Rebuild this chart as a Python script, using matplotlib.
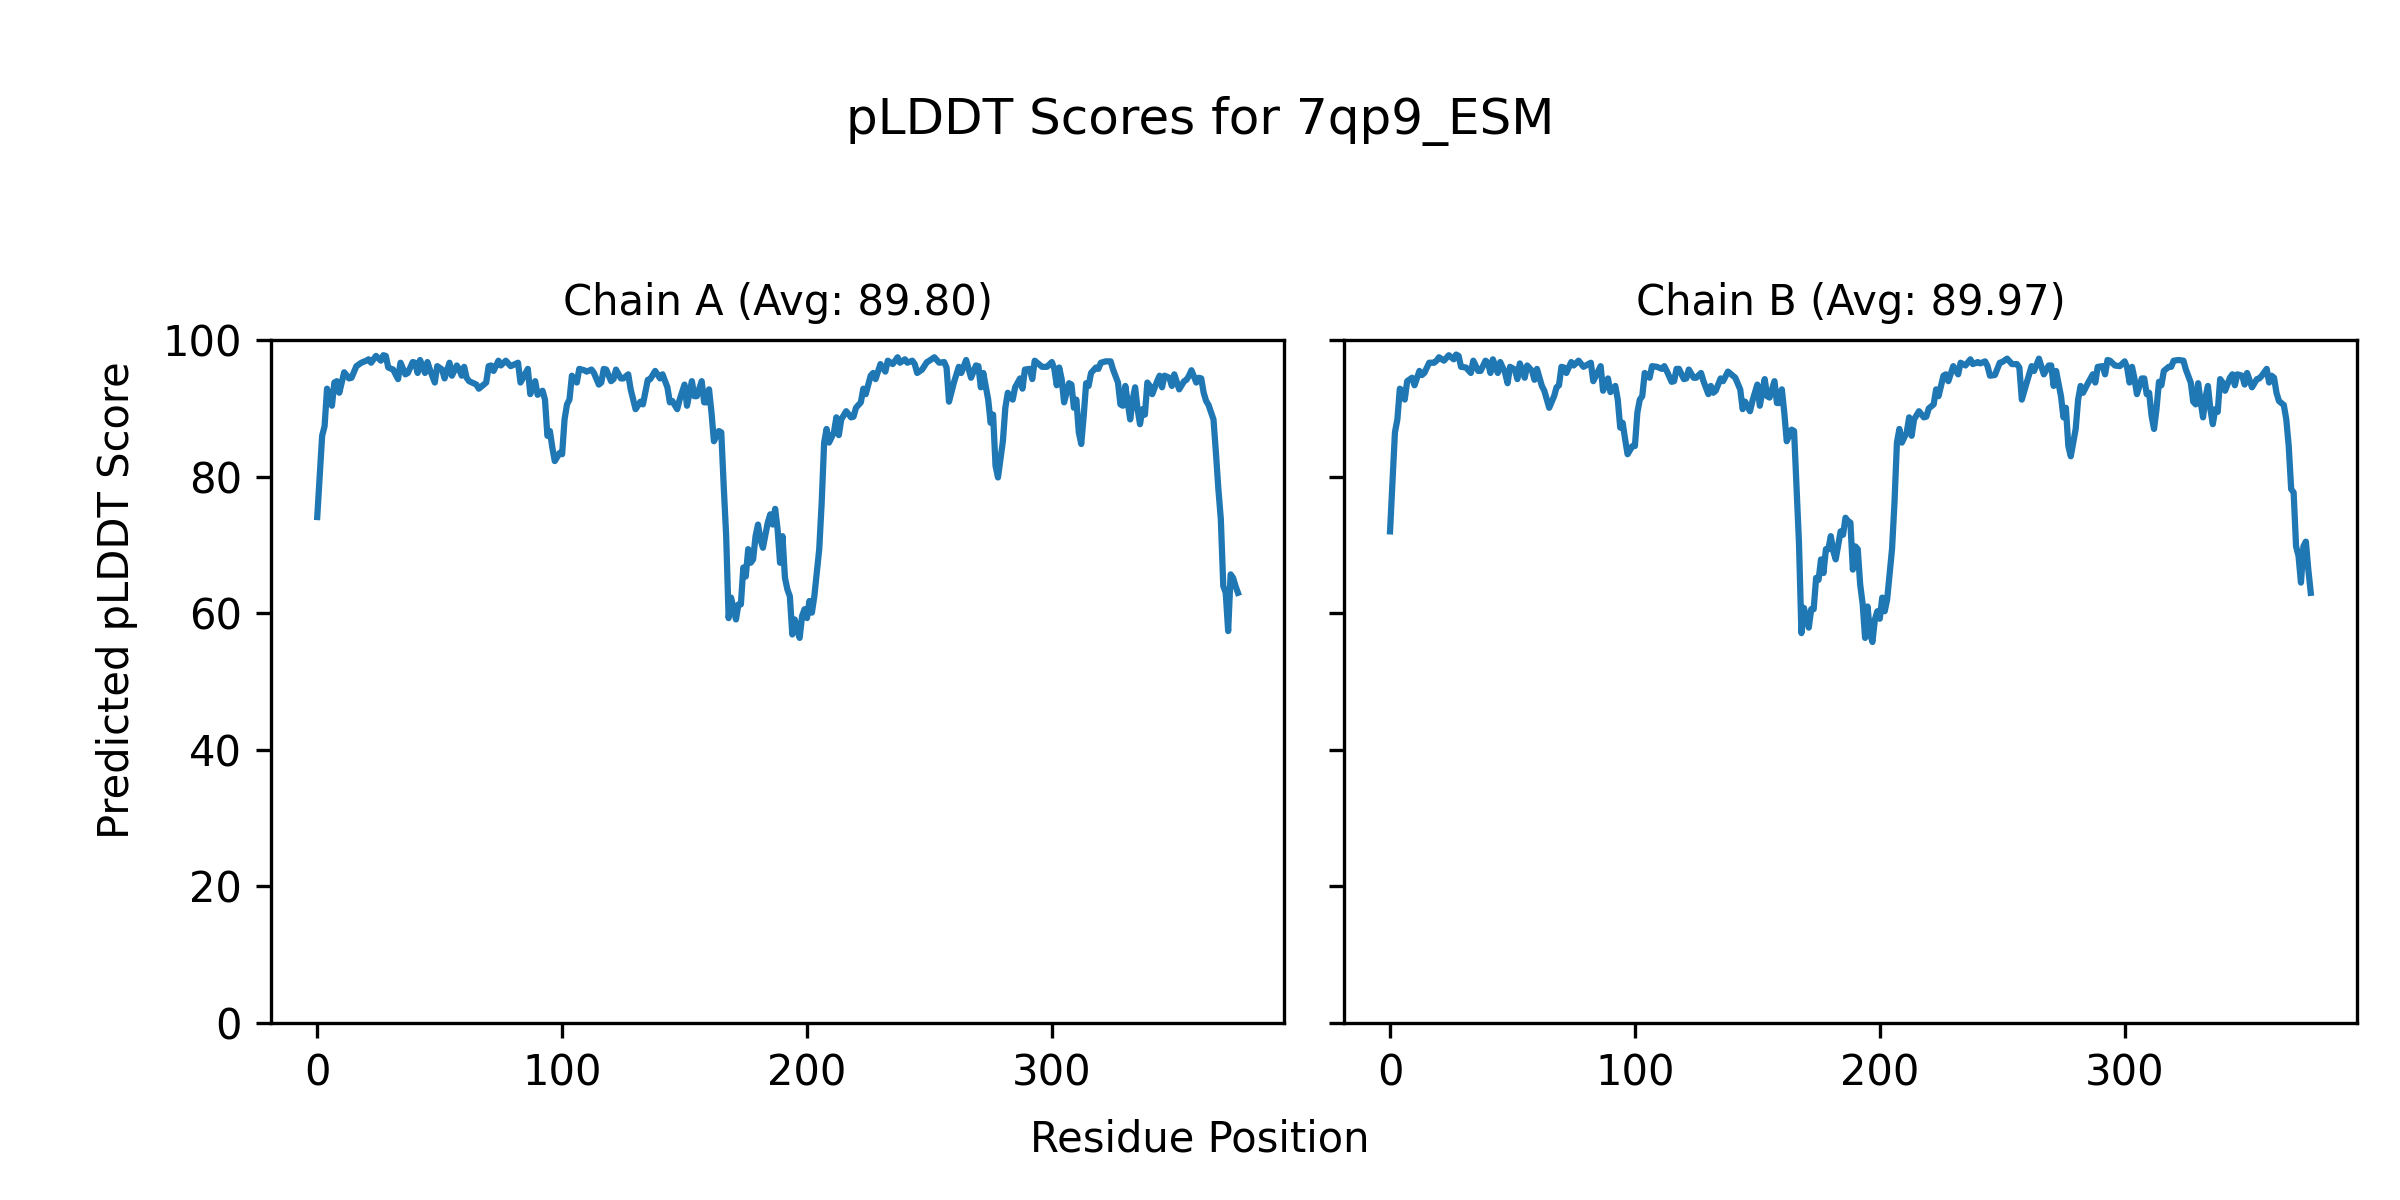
import matplotlib
matplotlib.use("Agg")
import matplotlib.pyplot as plt

model_name = "7qp9_ESM"

# Chain A: residue positions and pLDDT scores
pos_a = [0, 2, 3, 4, 6, 7, 8, 9, 11, 13, 14, 16, 18, 20, 21, 22, 24, 26, 27, 28,
         29, 31, 33, 34, 36, 37, 39, 40, 41, 42, 44, 45, 46, 48, 49, 51, 52, 54, 55, 57,
         58, 59, 60, 61, 62, 65, 66, 68, 69, 70, 71, 72, 74, 75, 77, 79, 82, 83, 86, 87,
         89, 90, 92, 93, 94, 95, 96, 97, 99, 100, 101, 102, 103, 104, 106, 107, 109, 110, 112, 113,
         115, 116, 117, 118, 120, 121, 122, 124, 125, 127, 128, 130, 132, 133, 135, 136, 138, 140, 141, 143,
         144, 145, 147, 148, 150, 151, 153, 154, 155, 157, 158, 159, 160, 161, 162, 164, 165, 166, 167, 168,
         169, 171, 172, 173, 174, 175, 176, 177, 178, 179, 180, 181, 182, 184, 185, 186, 187, 188, 189, 190,
         191, 192, 193, 194, 195, 196, 197, 198, 199, 200, 201, 202, 203, 205, 206, 207, 208, 209, 211, 212,
         213, 214, 216, 218, 219, 220, 222, 223, 224, 226, 227, 228, 230, 232, 233, 235, 237, 238, 240, 241,
         243, 244, 245, 247, 249, 250, 252, 254, 256, 257, 258, 260, 262, 263, 265, 267, 269, 270, 271, 272,
         274, 275, 276, 277, 278, 280, 281, 282, 284, 285, 287, 288, 289, 291, 292, 293, 294, 296, 298, 300,
         301, 302, 303, 304, 305, 307, 308, 309, 310, 311, 312, 313, 314, 315, 316, 318, 319, 320, 322, 324,
         325, 327, 328, 329, 330, 331, 332, 333, 334, 335, 336, 337, 338, 339, 340, 341, 343, 344, 345, 346,
         348, 349, 350, 352, 354, 355, 356, 357, 359, 360, 361, 362, 363, 364, 366, 367, 368, 369, 370, 371,
         372, 373, 374, 375, 376]
score_a = [74.1, 86.0, 87.4, 92.9, 90.4, 93.8, 94.0, 92.3, 95.3, 94.4, 94.5, 96.2, 96.7, 97.0, 97.2, 96.7, 97.7, 97.0, 97.8, 97.7,
           96.0, 95.7, 94.3, 96.7, 95.0, 95.2, 96.8, 96.7, 95.2, 97.1, 95.2, 96.8, 95.7, 93.8, 96.2, 95.7, 94.4, 96.7, 94.8, 96.3,
           95.7, 94.8, 96.1, 94.5, 94.0, 93.5, 92.9, 93.5, 93.8, 96.2, 96.3, 95.5, 97.0, 96.3, 97.0, 96.2, 96.7, 93.8, 95.8, 92.1,
           94.0, 92.0, 92.6, 91.3, 86.0, 86.7, 84.3, 82.3, 83.5, 83.3, 88.4, 90.6, 91.3, 94.8, 93.8, 95.8, 95.6, 95.4, 95.7, 95.2,
           93.5, 93.8, 95.8, 95.7, 94.0, 94.3, 95.7, 94.4, 94.4, 95.0, 92.8, 89.9, 91.0, 90.6, 94.2, 94.3, 95.5, 94.4, 95.0, 93.1,
           90.9, 91.1, 89.9, 91.3, 93.5, 90.4, 94.0, 91.8, 91.8, 94.0, 90.9, 90.9, 92.8, 89.4, 85.2, 86.7, 86.5, 78.6, 71.3, 59.3,
           62.3, 59.1, 61.3, 61.3, 66.7, 65.4, 69.4, 67.4, 67.9, 71.3, 73.0, 70.8, 69.6, 73.3, 74.5, 73.0, 75.3, 72.3, 67.4, 71.3,
           65.2, 63.5, 62.5, 56.9, 59.1, 57.6, 56.4, 59.6, 60.6, 59.3, 61.8, 60.1, 62.5, 69.4, 76.2, 85.0, 87.0, 85.0, 86.5, 88.7,
           86.1, 88.4, 89.6, 88.7, 88.8, 90.1, 90.9, 92.9, 92.1, 94.8, 95.2, 94.3, 96.5, 95.4, 97.0, 96.5, 97.5, 96.7, 97.2, 96.7,
           97.0, 96.5, 95.2, 95.7, 96.8, 97.0, 97.5, 96.7, 96.8, 96.0, 91.0, 93.8, 96.1, 95.2, 97.1, 94.5, 96.3, 96.2, 93.1, 95.2,
           91.3, 87.9, 89.1, 81.6, 79.9, 85.2, 90.1, 92.3, 91.3, 93.1, 94.4, 92.9, 95.7, 95.8, 94.3, 97.0, 96.7, 96.1, 96.1, 96.8,
           95.8, 93.4, 96.0, 94.3, 90.9, 93.7, 93.5, 90.1, 91.3, 86.5, 84.8, 88.9, 93.7, 93.3, 95.2, 96.0, 95.8, 96.7, 96.9, 96.9,
           95.7, 93.8, 90.6, 90.4, 93.3, 90.9, 88.4, 91.3, 93.1, 89.9, 87.7, 89.9, 89.1, 93.8, 93.3, 92.1, 94.0, 94.8, 93.1, 94.8,
           94.5, 93.3, 95.0, 92.8, 94.0, 94.2, 94.8, 95.6, 93.8, 94.5, 94.4, 92.3, 91.1, 90.5, 88.4, 83.5, 78.2, 73.8, 64.0, 63.0,
           57.4, 65.7, 65.2, 64.0, 63.0]

# Chain B
pos_b = [0, 2, 3, 4, 5, 6, 7, 9, 10, 12, 13, 14, 16, 18, 19, 20, 22, 24, 26, 27,
         28, 29, 31, 33, 34, 36, 37, 39, 40, 41, 42, 44, 45, 47, 48, 49, 51, 52, 53, 55,
         56, 58, 59, 60, 62, 63, 65, 67, 68, 69, 70, 71, 72, 74, 75, 77, 79, 82, 83, 86,
         87, 89, 90, 92, 93, 94, 95, 96, 97, 99, 100, 101, 102, 103, 104, 106, 107, 109, 111, 112,
         113, 115, 116, 117, 118, 120, 121, 122, 124, 125, 127, 128, 130, 131, 132, 133, 135, 136, 138, 140,
         141, 143, 144, 145, 147, 148, 150, 151, 153, 154, 155, 157, 158, 159, 160, 161, 162, 164, 165, 166,
         167, 168, 169, 171, 172, 173, 174, 175, 176, 177, 178, 179, 180, 181, 182, 184, 185, 186, 187, 188,
         189, 190, 191, 192, 193, 194, 195, 196, 197, 198, 199, 200, 201, 202, 203, 205, 206, 207, 208, 209,
         211, 212, 213, 214, 216, 218, 219, 220, 222, 223, 224, 226, 227, 228, 230, 232, 233, 235, 237, 238,
         240, 241, 243, 244, 245, 247, 249, 250, 252, 254, 256, 257, 258, 260, 262, 263, 265, 267, 269, 270,
         271, 272, 274, 275, 276, 277, 278, 280, 281, 282, 283, 285, 287, 288, 289, 291, 292, 293, 294, 296,
         298, 300, 301, 302, 303, 304, 305, 307, 308, 309, 310, 311, 312, 313, 314, 315, 316, 318, 319, 320,
         322, 324, 325, 327, 328, 329, 330, 331, 332, 333, 334, 335, 336, 337, 338, 339, 340, 341, 343, 344,
         345, 346, 348, 349, 350, 352, 354, 355, 356, 358, 359, 360, 361, 362, 363, 365, 366, 367, 368, 369,
         370, 371, 372, 373, 374, 375, 376]
score_b = [72.0, 86.5, 88.4, 92.9, 92.6, 91.3, 94.0, 94.5, 93.4, 95.5, 94.9, 95.2, 96.7, 96.7, 97.0, 97.5, 97.0, 97.8, 97.2, 97.9,
           97.7, 96.1, 96.0, 95.2, 97.0, 95.5, 95.5, 97.0, 96.7, 95.2, 97.2, 95.2, 96.8, 95.2, 93.7, 96.1, 95.7, 94.3, 96.6, 94.5,
           96.3, 95.5, 94.2, 95.8, 93.3, 92.6, 90.1, 91.8, 93.1, 93.4, 96.1, 96.0, 95.2, 96.8, 96.3, 97.0, 96.1, 96.7, 94.0, 96.2,
           92.6, 94.4, 92.4, 93.3, 91.3, 87.2, 87.9, 85.5, 83.3, 84.5, 84.5, 89.4, 91.3, 91.8, 95.2, 94.5, 96.2, 96.1, 95.8, 96.2,
           95.5, 93.9, 94.0, 95.8, 95.8, 94.3, 94.4, 95.7, 94.5, 94.5, 95.2, 94.0, 92.1, 93.3, 92.3, 92.6, 94.4, 94.0, 95.4, 94.8,
           94.5, 92.8, 89.9, 91.0, 89.6, 91.1, 93.5, 90.4, 94.3, 91.8, 91.6, 94.0, 90.8, 90.8, 92.8, 89.4, 85.2, 86.9, 86.7, 78.6,
           70.3, 57.1, 60.8, 57.9, 60.6, 60.6, 65.2, 64.9, 67.9, 65.9, 69.4, 69.4, 71.3, 69.1, 67.9, 72.0, 71.5, 74.0, 73.5, 73.3,
           66.4, 69.8, 69.4, 64.2, 61.4, 56.4, 61.0, 57.1, 55.8, 59.1, 60.3, 59.2, 62.3, 60.3, 62.0, 69.4, 76.2, 85.0, 87.0, 85.0,
           86.5, 88.7, 86.0, 88.4, 89.6, 88.7, 88.8, 90.0, 90.6, 92.8, 91.8, 94.8, 95.0, 94.0, 96.2, 95.0, 96.7, 96.3, 97.2, 96.5,
           96.8, 96.6, 96.9, 96.2, 94.8, 94.9, 96.7, 96.8, 97.3, 96.5, 96.5, 96.0, 91.3, 93.8, 96.2, 95.5, 97.3, 95.0, 96.3, 96.3,
           93.3, 95.5, 91.8, 88.7, 90.1, 84.5, 83.0, 87.0, 91.3, 93.3, 92.3, 93.7, 95.0, 93.8, 96.1, 96.2, 95.0, 97.1, 97.0, 96.3,
           96.2, 96.9, 96.0, 93.8, 96.1, 94.4, 92.1, 94.4, 94.4, 92.1, 92.3, 88.9, 87.0, 89.9, 93.9, 93.4, 95.5, 96.1, 96.1, 97.0,
           97.1, 97.0, 95.7, 93.8, 91.0, 90.6, 93.7, 91.1, 88.7, 91.6, 93.3, 89.9, 87.7, 89.9, 89.5, 94.3, 93.8, 92.6, 94.5, 95.0,
           93.4, 95.0, 94.8, 93.5, 95.2, 93.1, 94.3, 94.4, 94.8, 95.8, 93.8, 94.8, 94.5, 92.3, 91.1, 90.5, 88.4, 84.5, 78.2, 77.7,
           69.8, 68.4, 64.5, 69.8, 70.5, 66.4, 63.0]

chains = ["A", "B"]
averages = [89.80, 89.97]

fig = plt.figure(figsize=(8, 4), dpi=300)
ax1 = fig.add_axes([0.113, 0.1475, 0.422, 0.569])
ax2 = fig.add_axes([0.56, 0.1475, 0.422, 0.569], sharey=ax1)

for ax, chain, avg, pos, score in zip([ax1, ax2], chains, averages, [pos_a, pos_b], [score_a, score_b]):
    ax.plot(pos, score, color="#1f77b4", linewidth=1.5)
    ax.set_title(f"Chain {chain} (Avg: {avg:.2f})", fontsize=10)
    ax.set_ylim(0, 100)
    ax.set_xticks([0, 100, 200, 300])

ax2.tick_params(labelleft=False)

fig.suptitle(f"pLDDT Scores for {model_name}", fontsize=12, y=0.92)
fig.supxlabel("Residue Position", fontsize=10, y=0.033)
fig.supylabel("Predicted pLDDT Score", fontsize=10, x=0.04)

fig.savefig("out.png", dpi=300)
